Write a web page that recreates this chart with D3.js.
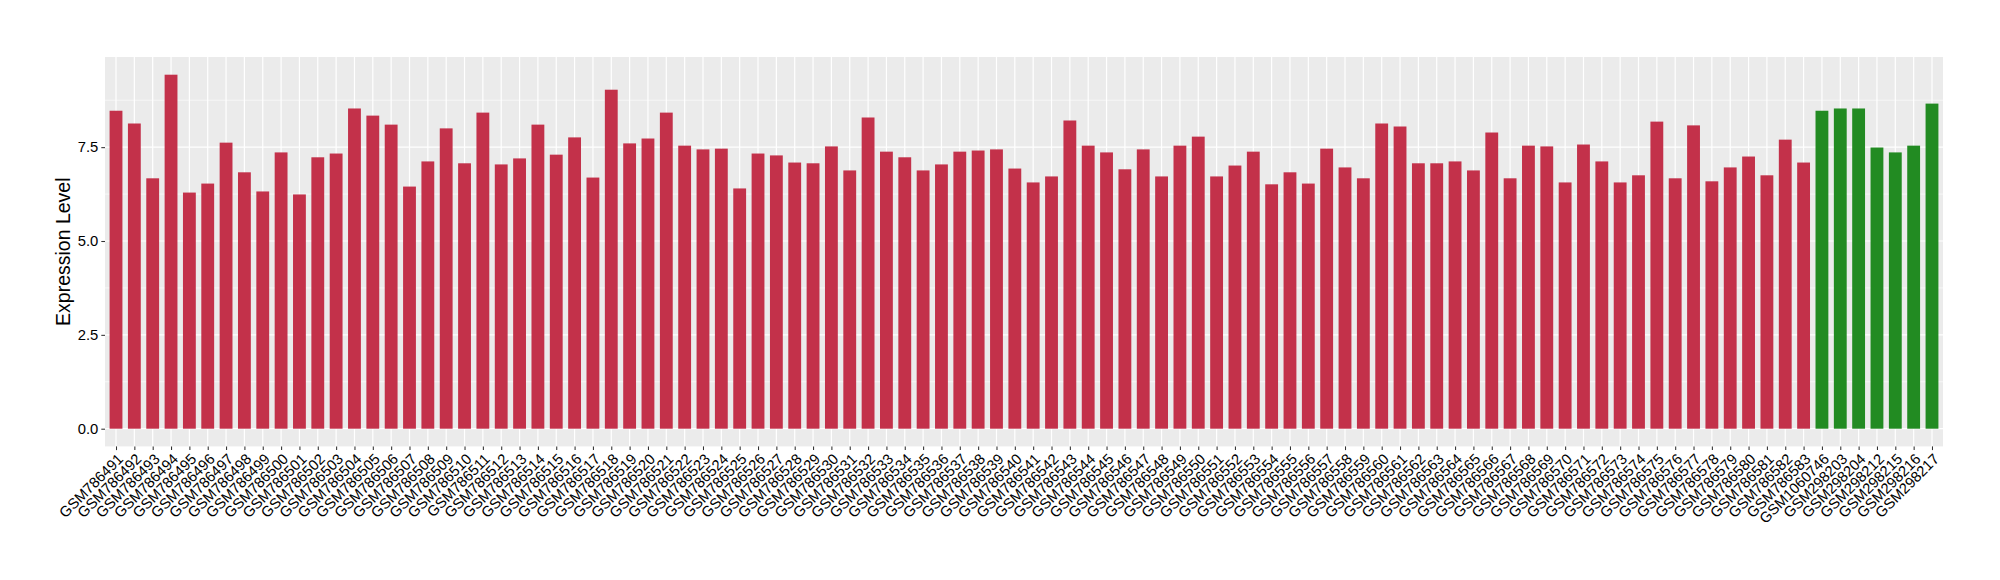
<!DOCTYPE html>
<html><head><meta charset="utf-8">
<script src="https://cdn.jsdelivr.net/npm/d3@7"></script>
<style>body{margin:0;background:#fff}</style>
</head><body><svg id="c" width="2000" height="580"></svg>
<script>
const redSamples = ["GSM786491","GSM786492","GSM786493","GSM786494","GSM786495","GSM786496","GSM786497","GSM786498","GSM786499","GSM786500",
"GSM786501","GSM786502","GSM786503","GSM786504","GSM786505","GSM786506","GSM786507","GSM786508","GSM786509","GSM786510",
"GSM786511","GSM786512","GSM786513","GSM786514","GSM786515","GSM786516","GSM786517","GSM786518","GSM786519","GSM786520",
"GSM786521","GSM786522","GSM786523","GSM786524","GSM786525","GSM786526","GSM786527","GSM786528","GSM786529","GSM786530",
"GSM786531","GSM786532","GSM786533","GSM786534","GSM786535","GSM786536","GSM786537","GSM786538","GSM786539","GSM786540",
"GSM786541","GSM786542","GSM786543","GSM786544","GSM786545","GSM786546","GSM786547","GSM786548","GSM786549","GSM786550",
"GSM786551","GSM786552","GSM786553","GSM786554","GSM786555","GSM786556","GSM786557","GSM786558","GSM786559","GSM786560",
"GSM786561","GSM786562","GSM786563","GSM786564","GSM786565","GSM786566","GSM786567","GSM786568","GSM786569","GSM786570",
"GSM786571","GSM786572","GSM786573","GSM786574","GSM786575","GSM786576","GSM786577","GSM786578","GSM786579","GSM786580",
"GSM786581","GSM786582","GSM786583"];
const greenSamples = ["GSM1060746","GSM298203","GSM298204","GSM298212","GSM298215","GSM298216","GSM298217"];
const redValues = [8.47,8.13,6.67,9.43,6.29,6.53,7.62,6.83,6.32,7.36,
6.24,7.23,7.33,8.53,8.34,8.10,6.45,7.12,8.00,7.07,
8.42,7.04,7.20,8.10,7.30,7.76,6.69,9.03,7.60,7.73,
8.42,7.54,7.44,7.46,6.40,7.33,7.28,7.09,7.07,7.52,
6.88,8.29,7.38,7.23,6.88,7.04,7.38,7.41,7.44,6.93,
6.56,6.72,8.21,7.54,7.36,6.91,7.44,6.72,7.54,7.78,
6.72,7.01,7.38,6.51,6.83,6.53,7.46,6.96,6.67,8.13,
8.05,7.07,7.07,7.12,6.88,7.89,6.67,7.54,7.52,6.56,
7.57,7.12,6.56,6.75,8.18,6.67,8.08,6.59,6.96,7.25,
6.75,7.70,7.09];
const greenValues = [8.47,8.53,8.53,7.49,7.36,7.54,8.66];
const yTicks = [0, 2.5, 5, 7.5];
const yMinor = [1.25, 3.75, 6.25, 8.75];
const yTitle = "Expression Level";

const data = redSamples.map((s,i)=>({name:s, value:redValues[i], color:"#C3314A"}))
  .concat(greenSamples.map((s,i)=>({name:s, value:greenValues[i], color:"#228B22"})));

const svg = d3.select("#c");
const L = 105, R = 1943, T = 57, B = 446.4;
const maxV = d3.max(data, d=>d.value);
const y = d3.scaleLinear().domain([-0.05*maxV, maxV*1.05]).range([B, T]);
const x = d3.scalePoint().domain(data.map(d=>d.name)).range([L, R]).padding(0.6);
const bw = x.step()*0.7;
const FONT = "'Liberation Sans', Arial, sans-serif";

svg.append("rect").attr("x",L).attr("y",T).attr("width",R-L).attr("height",B-T).attr("fill","#EBEBEB");
const g = svg.append("g");
g.selectAll(".ymin").data(yMinor).join("line")
  .attr("x1",L).attr("x2",R).attr("y1",d=>y(d)).attr("y2",d=>y(d))
  .attr("stroke","#fff").attr("stroke-width",0.6);
g.selectAll(".ymaj").data(yTicks).join("line")
  .attr("x1",L).attr("x2",R).attr("y1",d=>y(d)).attr("y2",d=>y(d))
  .attr("stroke","#fff").attr("stroke-width",1.2);
g.selectAll(".xmaj").data(data).join("line")
  .attr("x1",d=>x(d.name)).attr("x2",d=>x(d.name)).attr("y1",T).attr("y2",B)
  .attr("stroke","#fff").attr("stroke-width",1.2);

svg.selectAll(".bar").data(data).join("rect")
  .attr("x",d=>x(d.name)-bw/2).attr("width",bw)
  .attr("y",d=>y(d.value)).attr("height",d=>y(0)-y(d.value))
  .attr("fill",d=>d.color);

// y axis
const ya = svg.append("g").attr("transform",`translate(${L},0)`)
  .call(d3.axisLeft(y).tickValues(yTicks).tickFormat(d3.format(".1f")).tickSize(3.7).tickPadding(3));
ya.select(".domain").remove();
ya.selectAll(".tick line").attr("stroke","#333").attr("stroke-width",1.07);
ya.selectAll(".tick text").attr("fill","#000").style("font-family",FONT).style("font-size","14.8px");

// x axis
const xa = svg.append("g").attr("transform",`translate(0,${B})`)
  .call(d3.axisBottom(x).tickSize(3.7).tickPadding(0));
xa.select(".domain").remove();
xa.selectAll(".tick line").attr("stroke","#333").attr("stroke-width",1.07);
xa.selectAll(".tick text").attr("fill","#000")
  .style("font-family",FONT).style("font-size","14.8px")
  .attr("text-anchor","end").attr("dy","0.72em").attr("y",6)
  .attr("transform","rotate(-45,0,6)");

svg.append("text").attr("transform",`translate(70,${(T+B)/2}) rotate(-90)`)
  .attr("text-anchor","middle").attr("fill","#000")
  .style("font-family",FONT).style("font-size","19.5px")
  .text(yTitle);
</script></body></html>
